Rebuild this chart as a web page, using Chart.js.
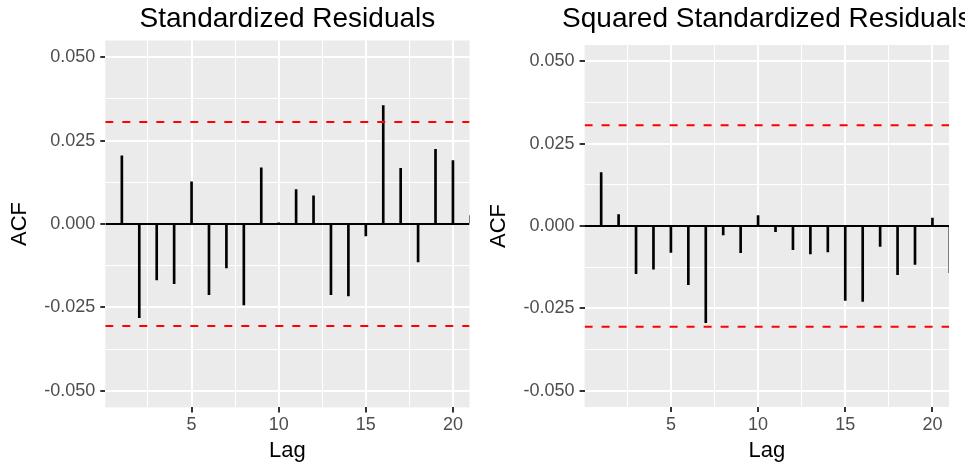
<!DOCTYPE html>
<html>
<head>
<meta charset="utf-8">
<script src="https://cdn.jsdelivr.net/npm/chart.js@4.4.1/dist/chart.umd.min.js"></script>
<style>
  html, body { margin: 0; padding: 0; background: #ffffff; overflow: hidden; width: 965px; height: 465px; }
  canvas { position: absolute; top: 0; }
  #residChart { left: 0px; }
  #squaredChart { left: 479px; }
</style>
</head>
<body>
<canvas id="residChart" width="500" height="465"></canvas>
<canvas id="squaredChart" width="500" height="465"></canvas>
<script>
var lags = [1, 2, 3, 4, 5, 6, 7, 8, 9, 10, 11, 12, 13, 14, 15, 16, 17, 18, 19, 20, 21];
var acfResid = [0.0204, -0.0281, -0.0168, -0.0179, 0.0126, -0.0212, -0.0132, -0.0243, 0.0168, 0.0003,
  0.0103, 0.0084, -0.0212, -0.0216, -0.0036, 0.0355, 0.0167, -0.0114, 0.0224, 0.0190, 0.0025];
var acfSquared = [0.0162, 0.0035, -0.0145, -0.0131, -0.0080, -0.0178, -0.0294, -0.0027, -0.0081, 0.0032,
  -0.0017, -0.0072, -0.0085, -0.0079, -0.0226, -0.0229, -0.0062, -0.0148, -0.0117, 0.0024, -0.0142];
var ciBound = 0.0306;

var xLimits = [0.05, 20.95];
var yLimits = [-0.055, 0.055];
var xTicks = [2.5, 5, 7.5, 10, 12.5, 15, 17.5, 20];
var xMajor = [5, 10, 15, 20];
var xTickLabels = ["5", "10", "15", "20"];
var yTicks = [-0.05, -0.0375, -0.025, -0.0125, 0, 0.0125, 0.025, 0.0375, 0.05];
var yMajor = [-0.05, -0.025, 0, 0.025, 0.05];
var yTickLabels = ["-0.050", "-0.025", "0.000", "0.025", "0.050"];

Chart.defaults.font.family = "'Liberation Sans', Arial, sans-serif";

var panelPlugin = {
  id: "panel",
  beforeDraw: function (chart) {
    var a = chart.chartArea;
    var ctx = chart.ctx;
    ctx.save();
    ctx.fillStyle = "#EBEBEB";
    ctx.fillRect(a.left, a.top, a.right - a.left, a.bottom - a.top);
    ctx.restore();
  },
  afterDraw: function (chart, args, opts) {
    var a = chart.chartArea;
    var ctx = chart.ctx;
    ctx.save();
    ctx.font = "28px 'Liberation Sans', Arial, sans-serif";
    ctx.fillStyle = "#000000";
    ctx.textAlign = "center";
    ctx.textBaseline = "alphabetic";
    ctx.fillText(opts.text, (a.left + a.right) / 2, opts.baseline);
    ctx.restore();
  }
};

function isMajor(list, ctx) {
  return ctx.tick && list.indexOf(ctx.tick.value) >= 0;
}

function makePanel(id, title, values, box) {
  var ctx = document.getElementById(id).getContext("2d");
  return new Chart(ctx, {
    type: "bar",
    data: {
      datasets: [
        {
          type: "line",
          data: [{ x: xLimits[0], y: ciBound }, { x: xLimits[1], y: ciBound }],
          borderColor: "#FF0000",
          borderWidth: 2,
          borderDash: [8, 9],
          pointRadius: 0,
          clip: 0
        },
        {
          type: "line",
          data: [{ x: xLimits[0], y: -ciBound }, { x: xLimits[1], y: -ciBound }],
          borderColor: "#FF0000",
          borderWidth: 2,
          borderDash: [8, 9],
          pointRadius: 0,
          clip: 0
        },
        {
          type: "bar",
          data: lags.map(function (lag, i) { return { x: lag, y: values[i] }; }),
          backgroundColor: "#000000",
          borderWidth: 0,
          barThickness: 2,
          clip: 0
        },
        {
          type: "line",
          data: [{ x: xLimits[0], y: 0 }, { x: xLimits[1], y: 0 }],
          borderColor: "#000000",
          borderWidth: 2,
          pointRadius: 0,
          clip: 0
        }
      ]
    },
    options: {
      responsive: false,
      animation: false,
      layout: { padding: { left: 0, right: box.right, top: box.top, bottom: 0 } },
      plugins: {
        legend: { display: false },
        tooltip: { enabled: false },
        title: { display: false },
        panel: { text: title, baseline: 27 }
      },
      scales: {
        x: {
          type: "linear",
          min: xLimits[0],
          max: xLimits[1],
          offset: false,
          afterBuildTicks: function (s) {
            s.ticks = xTicks.map(function (v) { return { value: v }; });
          },
          afterFit: function (s) { s.height = box.xHeight; },
          ticks: {
            autoSkip: false,
            maxRotation: 0,
            padding: 2,
            color: "#4D4D4D",
            font: { size: 18 },
            callback: function (v) {
              var i = xMajor.indexOf(v);
              return i >= 0 ? xTickLabels[i] : "";
            }
          },
          grid: {
            offset: false,
            color: "#FFFFFF",
            lineWidth: function (c) { return isMajor(xMajor, c) ? 2 : 1; },
            tickLength: 5,
            tickWidth: 2,
            tickColor: function (c) { return isMajor(xMajor, c) ? "#333333" : "rgba(0,0,0,0)"; }
          },
          border: { display: false },
          title: {
            display: true,
            text: "Lag",
            color: "#000000",
            font: { size: 22 },
            padding: { top: 0, bottom: 1 }
          }
        },
        y: {
          type: "linear",
          min: yLimits[0],
          max: yLimits[1],
          afterBuildTicks: function (s) {
            s.ticks = yTicks.map(function (v) { return { value: v }; });
          },
          afterFit: function (s) { s.width = box.yWidth; },
          ticks: {
            autoSkip: false,
            padding: 5,
            color: "#4D4D4D",
            font: { size: 18 },
            callback: function (v) {
              var i = yMajor.indexOf(v);
              return i >= 0 ? yTickLabels[i] : "";
            }
          },
          grid: {
            color: "#FFFFFF",
            lineWidth: function (c) { return isMajor(yMajor, c) ? 2 : 1; },
            tickLength: 5,
            tickWidth: 2,
            tickColor: function (c) { return isMajor(yMajor, c) ? "#333333" : "rgba(0,0,0,0)"; }
          },
          border: { display: false },
          title: {
            display: true,
            text: "ACF",
            color: "#000000",
            font: { size: 22 },
            padding: { top: 7, bottom: 0 }
          }
        }
      }
    },
    plugins: [panelPlugin]
  });
}

makePanel("residChart", "Standardized Residuals", acfResid,
  { top: 40.5, right: 30.5, xHeight: 57.6, yWidth: 105.3 });
makePanel("squaredChart", "Squared Standardized Residuals", acfSquared,
  { top: 45, right: 30, xHeight: 58, yWidth: 105.6 });
</script>
</body>
</html>
